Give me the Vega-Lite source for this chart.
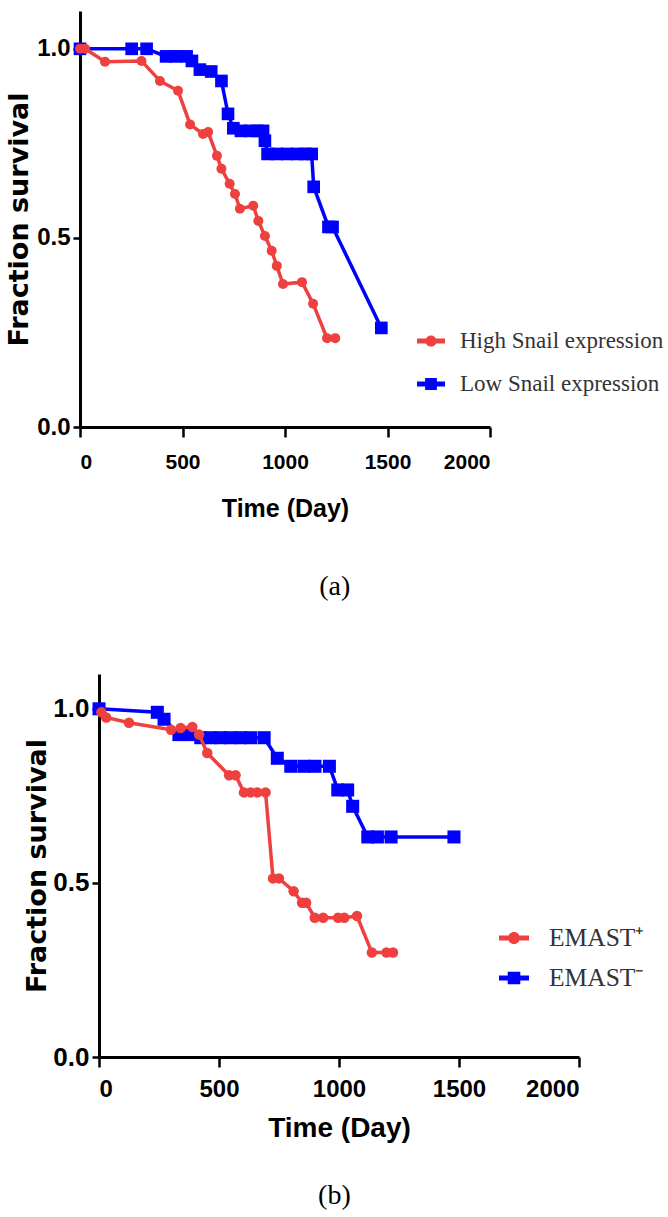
{
  "$schema": "https://vega.github.io/schema/vega-lite/v6.json",
  "background": "white",
  "padding": {"left": 5, "top": 11, "right": 0, "bottom": 0},
  "columns": 1,
  "align": "each",
  "center": true,
  "bounds": "full",
  "spacing": 73,
  "resolve": {"scale": {"color": "independent", "shape": "independent"}, "legend": {"color": "independent", "shape": "independent"}},
  "config": {
    "view": {"stroke": null},
    "axis": {"grid": false, "domainColor": "#000000", "tickColor": "#000000", "labelColor": "#000000", "titleColor": "#000000", "domainWidth": 3, "tickWidth": 2.5, "labelFontWeight": "bold", "titleFontWeight": "bold"},
    "legend": {"padding": 0, "labelLimit": 500, "symbolStrokeWidth": 0, "symbolOpacity": 1, "labelColor": "#333333", "labelFont": "Liberation Serif"}
  },
  "datasets": {
    "a": [
      {"group": "Low Snail expression", "day": 0, "surv": 1.0},
      {"group": "Low Snail expression", "day": 252, "surv": 1.0},
      {"group": "Low Snail expression", "day": 325, "surv": 1.0},
      {"group": "Low Snail expression", "day": 420, "surv": 0.98},
      {"group": "Low Snail expression", "day": 465, "surv": 0.98},
      {"group": "Low Snail expression", "day": 520, "surv": 0.98},
      {"group": "Low Snail expression", "day": 546, "surv": 0.968},
      {"group": "Low Snail expression", "day": 585, "surv": 0.945},
      {"group": "Low Snail expression", "day": 640, "surv": 0.94},
      {"group": "Low Snail expression", "day": 690, "surv": 0.915},
      {"group": "Low Snail expression", "day": 722, "surv": 0.828},
      {"group": "Low Snail expression", "day": 748, "surv": 0.79},
      {"group": "Low Snail expression", "day": 785, "surv": 0.783},
      {"group": "Low Snail expression", "day": 830, "surv": 0.783},
      {"group": "Low Snail expression", "day": 865, "surv": 0.783},
      {"group": "Low Snail expression", "day": 893, "surv": 0.783},
      {"group": "Low Snail expression", "day": 902, "surv": 0.757},
      {"group": "Low Snail expression", "day": 915, "surv": 0.722},
      {"group": "Low Snail expression", "day": 960, "surv": 0.722},
      {"group": "Low Snail expression", "day": 1010, "surv": 0.722},
      {"group": "Low Snail expression", "day": 1060, "surv": 0.722},
      {"group": "Low Snail expression", "day": 1100, "surv": 0.722},
      {"group": "Low Snail expression", "day": 1130, "surv": 0.722},
      {"group": "Low Snail expression", "day": 1140, "surv": 0.635},
      {"group": "Low Snail expression", "day": 1212, "surv": 0.529},
      {"group": "Low Snail expression", "day": 1232, "surv": 0.529},
      {"group": "Low Snail expression", "day": 1470, "surv": 0.262},
      {"group": "High Snail expression", "day": 0, "surv": 1.0},
      {"group": "High Snail expression", "day": 25, "surv": 1.0},
      {"group": "High Snail expression", "day": 122, "surv": 0.966},
      {"group": "High Snail expression", "day": 300, "surv": 0.968},
      {"group": "High Snail expression", "day": 390, "surv": 0.915},
      {"group": "High Snail expression", "day": 478, "surv": 0.889},
      {"group": "High Snail expression", "day": 537, "surv": 0.8},
      {"group": "High Snail expression", "day": 600, "surv": 0.775},
      {"group": "High Snail expression", "day": 625, "surv": 0.78},
      {"group": "High Snail expression", "day": 668, "surv": 0.717},
      {"group": "High Snail expression", "day": 690, "surv": 0.683},
      {"group": "High Snail expression", "day": 730, "surv": 0.643},
      {"group": "High Snail expression", "day": 756, "surv": 0.616},
      {"group": "High Snail expression", "day": 780, "surv": 0.577},
      {"group": "High Snail expression", "day": 845, "surv": 0.585},
      {"group": "High Snail expression", "day": 870, "surv": 0.545},
      {"group": "High Snail expression", "day": 902, "surv": 0.505},
      {"group": "High Snail expression", "day": 935, "surv": 0.466},
      {"group": "High Snail expression", "day": 960, "surv": 0.426},
      {"group": "High Snail expression", "day": 990, "surv": 0.378},
      {"group": "High Snail expression", "day": 1083, "surv": 0.383},
      {"group": "High Snail expression", "day": 1137, "surv": 0.326},
      {"group": "High Snail expression", "day": 1205, "surv": 0.235},
      {"group": "High Snail expression", "day": 1245, "surv": 0.235}
    ],
    "b": [
      {"group": "EMAST⁻", "day": 0, "surv": 1.0},
      {"group": "EMAST⁻", "day": 243, "surv": 0.99},
      {"group": "EMAST⁻", "day": 271, "surv": 0.97},
      {"group": "EMAST⁻", "day": 333, "surv": 0.926},
      {"group": "EMAST⁻", "day": 375, "surv": 0.926},
      {"group": "EMAST⁻", "day": 424, "surv": 0.917},
      {"group": "EMAST⁻", "day": 465, "surv": 0.917},
      {"group": "EMAST⁻", "day": 507, "surv": 0.917},
      {"group": "EMAST⁻", "day": 548, "surv": 0.917},
      {"group": "EMAST⁻", "day": 590, "surv": 0.917},
      {"group": "EMAST⁻", "day": 632, "surv": 0.917},
      {"group": "EMAST⁻", "day": 688, "surv": 0.917},
      {"group": "EMAST⁻", "day": 743, "surv": 0.858},
      {"group": "EMAST⁻", "day": 799, "surv": 0.835},
      {"group": "EMAST⁻", "day": 854, "surv": 0.835},
      {"group": "EMAST⁻", "day": 900, "surv": 0.835},
      {"group": "EMAST⁻", "day": 960, "surv": 0.835},
      {"group": "EMAST⁻", "day": 995, "surv": 0.767},
      {"group": "EMAST⁻", "day": 1036, "surv": 0.767},
      {"group": "EMAST⁻", "day": 1057, "surv": 0.72},
      {"group": "EMAST⁻", "day": 1120, "surv": 0.632},
      {"group": "EMAST⁻", "day": 1160, "surv": 0.632},
      {"group": "EMAST⁻", "day": 1217, "surv": 0.632},
      {"group": "EMAST⁻", "day": 1479, "surv": 0.632},
      {"group": "EMAST⁺", "day": 10, "surv": 0.99},
      {"group": "EMAST⁺", "day": 30, "surv": 0.975},
      {"group": "EMAST⁺", "day": 125, "surv": 0.96},
      {"group": "EMAST⁺", "day": 300, "surv": 0.94},
      {"group": "EMAST⁺", "day": 340, "surv": 0.945},
      {"group": "EMAST⁺", "day": 389, "surv": 0.948},
      {"group": "EMAST⁺", "day": 417, "surv": 0.926},
      {"group": "EMAST⁺", "day": 451, "surv": 0.873},
      {"group": "EMAST⁺", "day": 542, "surv": 0.809},
      {"group": "EMAST⁺", "day": 569, "surv": 0.809},
      {"group": "EMAST⁺", "day": 604, "surv": 0.76},
      {"group": "EMAST⁺", "day": 632, "surv": 0.76},
      {"group": "EMAST⁺", "day": 660, "surv": 0.76},
      {"group": "EMAST⁺", "day": 694, "surv": 0.76},
      {"group": "EMAST⁺", "day": 725, "surv": 0.513},
      {"group": "EMAST⁺", "day": 750, "surv": 0.513},
      {"group": "EMAST⁺", "day": 811, "surv": 0.476},
      {"group": "EMAST⁺", "day": 846, "surv": 0.443},
      {"group": "EMAST⁺", "day": 863, "surv": 0.443},
      {"group": "EMAST⁺", "day": 899, "surv": 0.4},
      {"group": "EMAST⁺", "day": 934, "surv": 0.4},
      {"group": "EMAST⁺", "day": 996, "surv": 0.4},
      {"group": "EMAST⁺", "day": 1022, "surv": 0.4},
      {"group": "EMAST⁺", "day": 1075, "surv": 0.405},
      {"group": "EMAST⁺", "day": 1137, "surv": 0.3},
      {"group": "EMAST⁺", "day": 1198, "surv": 0.3},
      {"group": "EMAST⁺", "day": 1225, "surv": 0.3}
    ]
  },
  "concat": [
    {
      "width": 410,
      "height": 416,
      "data": {"name": "a"},
      "title": {"text": "(a)", "orient": "bottom", "frame": "bounds", "anchor": "middle", "font": "Liberation Serif", "fontSize": 28, "fontWeight": "normal", "color": "#000000", "offset": 52},
      "encoding": {
        "x": {"field": "day", "type": "quantitative", "scale": {"domain": [0, 2000], "nice": false},
              "axis": {"values": [0, 500, 1000, 1500, 2000], "format": "d", "title": "Time (Day)", "labelFont": "Liberation Sans", "labelFontSize": 21, "tickSize": 10, "labelPadding": 14, "titleFont": "Liberation Sans", "titleFontSize": 25, "titlePadding": 24}},
        "y": {"field": "surv", "type": "quantitative", "scale": {"domain": [0, 1.1], "nice": false, "zero": false},
              "axis": {"values": [0, 0.5, 1], "format": ".1f", "title": "Fraction survival", "labelFont": "Liberation Sans", "labelFontSize": 24, "tickSize": 7, "labelPadding": 3, "titleFont": "DejaVu Sans", "titleFontSize": 27, "titlePadding": 3}}
      },
      "layer": [
        {"transform": [{"filter": "datum.group === 'Low Snail expression'"}], "mark": {"type": "line", "color": "#0000ff", "strokeWidth": 3.5}},
        {"transform": [{"filter": "datum.group === 'Low Snail expression'"}], "mark": {"type": "point", "shape": "square", "filled": true, "color": "#0000ff", "size": 160, "opacity": 1}},
        {"transform": [{"filter": "datum.group === 'High Snail expression'"}], "mark": {"type": "line", "color": "#ef4040", "strokeWidth": 3.5}},
        {"transform": [{"filter": "datum.group === 'High Snail expression'"}], "mark": {"type": "point", "shape": "circle", "filled": true, "color": "#ef4040", "size": 100, "opacity": 1}},
        {"mark": {"type": "point", "filled": true, "opacity": 0},
         "encoding": {
           "color": {"field": "group", "type": "nominal", "scale": {"domain": ["High Snail expression", "Low Snail expression"], "range": ["#ef4040", "#0000ff"]},
                     "legend": {"title": null, "orient": "none", "legendX": 337, "legendY": 316, "labelFontSize": 23, "symbolSize": 784, "rowPadding": 17, "labelOffset": 15}},
           "shape": {"field": "group", "type": "nominal", "scale": {"domain": ["High Snail expression", "Low Snail expression"], "range": ["M-1,-0.17H1V0.17H-1Z M0.4,0A0.4,0.4 0 1,1 -0.4,0A0.4,0.4 0 1,1 0.4,0Z", "M-1,-0.17H1V0.17H-1Z M-0.42,-0.42H0.42V0.42H-0.42Z"]},
                     "legend": {"title": null, "orient": "none", "legendX": 337, "legendY": 316, "labelFontSize": 23, "symbolSize": 784, "rowPadding": 17, "labelOffset": 15}}
         }}
      ]
    },
    {
      "width": 480,
      "height": 383,
      "data": {"name": "b"},
      "title": {"text": "(b)", "orient": "bottom", "frame": "bounds", "anchor": "middle", "font": "Liberation Serif", "fontSize": 28, "fontWeight": "normal", "color": "#000000", "offset": 40},
      "encoding": {
        "x": {"field": "day", "type": "quantitative", "scale": {"domain": [0, 2000], "nice": false},
              "axis": {"values": [0, 500, 1000, 1500, 2000], "format": "d", "title": "Time (Day)", "labelFont": "Liberation Sans", "labelFontSize": 24, "tickSize": 10, "labelPadding": 10, "titleFont": "Liberation Sans", "titleFontSize": 28, "titlePadding": 13}},
        "y": {"field": "surv", "type": "quantitative", "scale": {"domain": [0, 1.1], "nice": false, "zero": false},
              "axis": {"values": [0, 0.5, 1], "format": ".1f", "title": "Fraction survival", "labelFont": "Liberation Sans", "labelFontSize": 26, "tickSize": 7, "labelPadding": 3, "titleFont": "DejaVu Sans", "titleFontSize": 27, "titlePadding": 1}}
      },
      "layer": [
        {"transform": [{"filter": "datum.group === 'EMAST⁻'"}], "mark": {"type": "line", "color": "#0000ff", "strokeWidth": 3.5}},
        {"transform": [{"filter": "datum.group === 'EMAST⁻'"}], "mark": {"type": "point", "shape": "square", "filled": true, "color": "#0000ff", "size": 170, "opacity": 1}},
        {"transform": [{"filter": "datum.group === 'EMAST⁺'"}], "mark": {"type": "line", "color": "#ef4040", "strokeWidth": 3.5}},
        {"transform": [{"filter": "datum.group === 'EMAST⁺'"}], "mark": {"type": "point", "shape": "circle", "filled": true, "color": "#ef4040", "size": 110, "opacity": 1}},
        {"mark": {"type": "point", "filled": true, "opacity": 0},
         "encoding": {
           "color": {"field": "group", "type": "nominal", "scale": {"domain": ["EMAST⁺", "EMAST⁻"], "range": ["#ef4040", "#0000ff"]},
                     "legend": {"title": null, "orient": "none", "legendX": 400, "legendY": 249, "labelFontSize": 25.5, "symbolSize": 900, "rowPadding": 11, "labelOffset": 20}},
           "shape": {"field": "group", "type": "nominal", "scale": {"domain": ["EMAST⁺", "EMAST⁻"], "range": ["M-1,-0.17H1V0.17H-1Z M0.4,0A0.4,0.4 0 1,1 -0.4,0A0.4,0.4 0 1,1 0.4,0Z", "M-1,-0.17H1V0.17H-1Z M-0.42,-0.42H0.42V0.42H-0.42Z"]},
                     "legend": {"title": null, "orient": "none", "legendX": 400, "legendY": 249, "labelFontSize": 25.5, "symbolSize": 900, "rowPadding": 11, "labelOffset": 20}}
         }}
      ]
    }
  ]
}
